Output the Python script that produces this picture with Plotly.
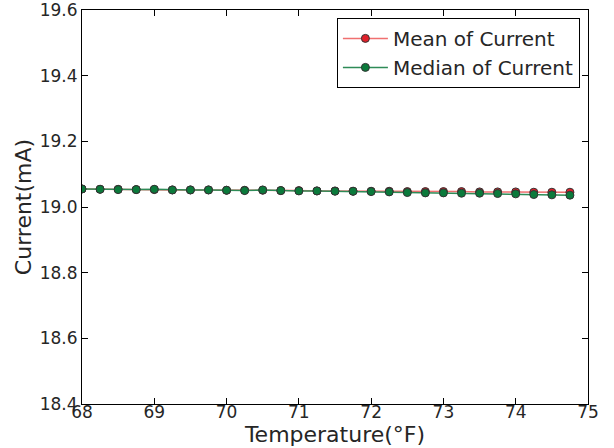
import plotly.graph_objects as go

temperature = [68.0, 68.25, 68.5, 68.75, 69.0, 69.25, 69.5, 69.75, 70.0, 70.25,
               70.5, 70.75, 71.0, 71.25, 71.5, 71.75, 72.0, 72.25, 72.5, 72.75,
               73.0, 73.25, 73.5, 73.75, 74.0, 74.25, 74.5, 74.75]
mean_current = [19.055, 19.054, 19.054, 19.053, 19.053, 19.052, 19.052, 19.052,
                19.051, 19.051, 19.051, 19.050, 19.050, 19.049, 19.049, 19.048,
                19.048, 19.048, 19.047, 19.047, 19.047, 19.047, 19.046, 19.046,
                19.046, 19.045, 19.045, 19.045]
median_current = [19.055, 19.054, 19.053, 19.053, 19.054, 19.052, 19.052, 19.052,
                  19.051, 19.050, 19.052, 19.050, 19.049, 19.049, 19.048, 19.048,
                  19.047, 19.046, 19.044, 19.043, 19.043, 19.042, 19.042, 19.041,
                  19.040, 19.038, 19.037, 19.036]
y_ticks = [18.4, 18.6, 18.8, 19.0, 19.2, 19.4, 19.6]
x_ticks = [68, 69, 70, 71, 72, 73, 74, 75]

font = "DejaVu Sans"
fig = go.Figure()
fig.add_trace(go.Scatter(
    x=temperature, y=mean_current, mode="lines+markers", name="Mean of Current",
    line=dict(color="#f07070", width=1.5),
    marker=dict(color="#e0202a", size=8, line=dict(color="#333333", width=1)),
))
fig.add_trace(go.Scatter(
    x=temperature, y=median_current, mode="lines+markers", name="Median of Current",
    line=dict(color="#2e8b57", width=1.5),
    marker=dict(color="#0b7a3b", size=8, line=dict(color="#333333", width=1)),
))

axis_common = dict(
    showgrid=False, zeroline=False, showline=True, linecolor="black", linewidth=1,
    mirror="allticks", ticks="inside", ticklen=6, tickwidth=1, tickcolor="black",
    tickfont=dict(family=font, size=17, color="#262626"), automargin=False,
    ticklabeloverflow="allow",
)
fig.update_xaxes(
    range=[68, 75], tickvals=x_ticks, ticktext=[str(v) for v in x_ticks],
    title=dict(text="Temperature(°F)", font=dict(family=font, size=22, color="#262626"), standoff=3),
    ticklabelstandoff=-7,
    **axis_common,
)
fig.update_yaxes(
    range=[18.4, 19.6], tickvals=y_ticks, ticktext=[f"{v:.1f}" for v in y_ticks],
    title=dict(text="Current(mA)", font=dict(family=font, size=22, color="#262626"), standoff=2),
    **axis_common,
)
fig.update_layout(
    width=614, height=448,
    margin=dict(l=82, r=26, t=10, b=44),
    paper_bgcolor="white", plot_bgcolor="white",
    font=dict(family=font, color="#262626"),
    legend=dict(
        x=0.984, y=0.98, xanchor="right", yanchor="top",
        bordercolor="black", borderwidth=1, bgcolor="white",
        font=dict(family=font, size=20, color="#262626"),
        itemwidth=45, tracegroupgap=0,
    ),
)
fig.write_html(
    "out.html",
    config={"displayModeBar": False},
    post_script="document.body.style.margin='0';document.body.style.overflow='hidden';",
)
